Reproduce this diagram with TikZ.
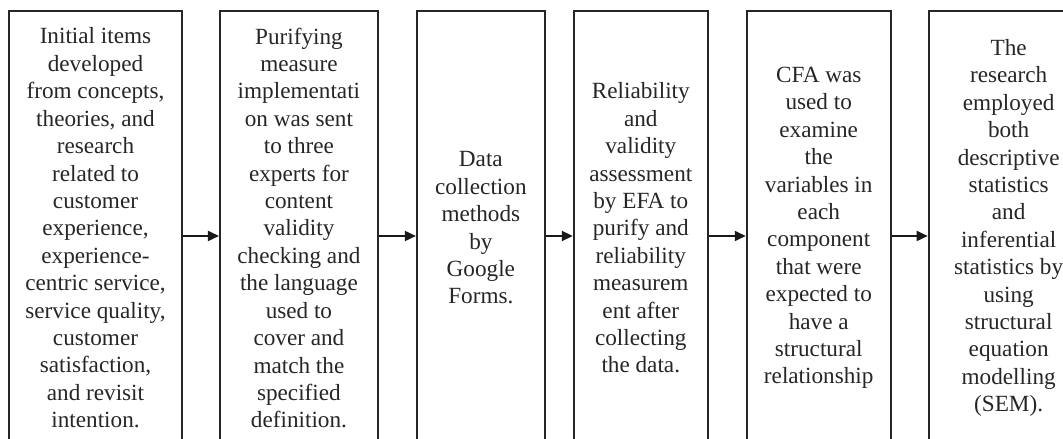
\documentclass[tikz,border=0pt]{standalone}
\usepackage{fontspec}
\setmainfont{Liberation Serif}
\usetikzlibrary{positioning,arrows.meta}

\begin{document}
\begin{tikzpicture}[
    font=\fontsize{13.2}{15.6}\selectfont,
    every node/.style={align=center, text=black!85},
    stage/.style={rectangle, draw=black!85, line width=1.1pt, minimum height=8.68cm, inner sep=2pt},
    arrow/.style={-{Triangle[length=0.22cm, width=0.2cm]}, line width=1pt, black!90}
]
    \useasboundingbox (0,0) rectangle (21.26,8.78);

    % Stage boxes
    \node (items) [stage, minimum width=3.46cm] at (1.91,4.22) {Initial items \\ developed \\ from concepts, \\ theories, and \\ research \\ related to \\ customer \\ experience, \\ experience- \\ centric service, \\ service quality, \\ customer \\ satisfaction, \\ and revisit \\ intention.};

    \node (purify) [stage, minimum width=3.16cm, right=0.72cm of items] {Purifying \\ measure \\ implementati \\ on was sent \\ to three \\ experts for \\ content \\ validity \\ checking and \\ the language \\ used to \\ cover and \\ match the \\ specified \\ definition.};

    \node (collect) [stage, minimum width=2.56cm, right=0.74cm of purify] {Data \\ collection \\ methods \\ by \\ Google \\ Forms.};

    \node (efa) [stage, minimum width=2.68cm, right=0.54cm of collect] {Reliability \\ and \\ validity \\ assessment \\ by EFA to \\ purify and \\ reliability \\ measurem \\ ent after \\ collecting \\ the data.};

    \node (cfa) [stage, minimum width=2.88cm, right=0.74cm of efa] {CFA was \\ used to \\ examine \\ the \\ variables in \\ each \\ component \\ that were \\ expected to \\ have a \\ structural \\ relationship};

    \node (sem) [stage, minimum width=3.2cm, right=0.72cm of cfa] {The \\ research \\ employed \\ both \\ descriptive \\ statistics \\ and \\ inferential \\ statistics by \\ using \\ structural \\ equation \\ modelling \\ (SEM).};

    % Flow arrows
    \draw [arrow] ([yshift=-0.16cm]items.east) -- ([yshift=-0.16cm]purify.west);
    \draw [arrow] ([yshift=-0.16cm]purify.east) -- ([yshift=-0.16cm]collect.west);
    \draw [arrow] ([yshift=-0.16cm]collect.east) -- ([yshift=-0.16cm]efa.west);
    \draw [arrow] ([yshift=-0.16cm]efa.east) -- ([yshift=-0.16cm]cfa.west);
    \draw [arrow] ([yshift=-0.16cm]cfa.east) -- ([yshift=-0.16cm]sem.west);

\end{tikzpicture}
\end{document}
